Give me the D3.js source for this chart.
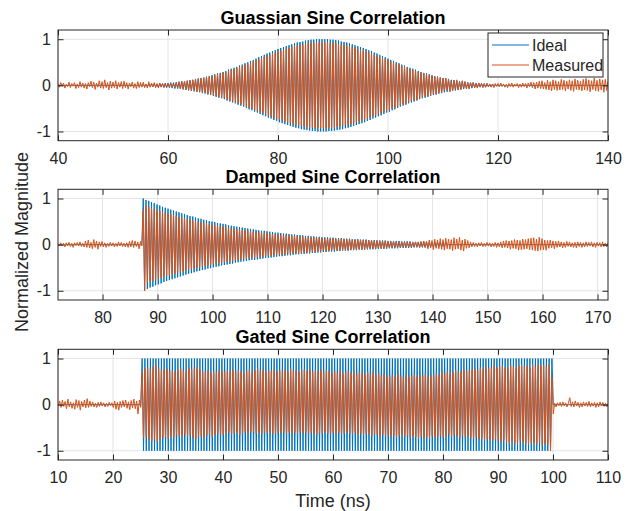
<!DOCTYPE html>
<html><head><meta charset="utf-8">
<script src="https://cdn.jsdelivr.net/npm/d3@7"></script>
<style>body{margin:0;background:#fff}svg{display:block}</style>
</head><body>
<svg id="c" width="634" height="511"></svg>
<script>
// ---------- DATA (signed peak values, sample step dt in ns) ----------
const dt = 0.25;

// Panel 1: Gaussian sine, samples from t = 40 ns
const gaussStart = 40;
const gaussIdeal = [
0,0,0,0,0,0,0,0,0,0,0,0,0,0,0,0,0,0,0,0,
0,0,0,0,0,0,0,0,0,0,0,0,0,0,0,0,0,0,0,0,
0,0,0,0,0,0,0,0,0,0,0,0,0,0,0,0,.01,-.01,.01,-.02,
.02,-.02,.02,-.02,.02,-.02,.02,-.03,.03,-.03,.03,-.03,.03,-.04,.04,-.04,.04,-.04,.05,-.05,
.05,-.05,.06,-.06,.06,-.07,.07,-.07,.08,-.08,.09,-.09,.09,-.10,.10,-.11,.11,-.12,.12,-.13,
.14,-.14,.15,-.15,.16,-.17,.17,-.18,.19,-.20,.20,-.21,.22,-.23,.24,-.25,.26,-.27,.27,-.28,
.29,-.30,.31,-.33,.34,-.35,.36,-.37,.38,-.39,.40,-.42,.43,-.44,.45,-.46,.48,-.49,.50,-.52,
.53,-.54,.55,-.57,.58,-.59,.61,-.62,.63,-.65,.66,-.67,.69,-.70,.71,-.72,.74,-.75,.76,-.77,
.79,-.80,.81,-.82,.83,-.84,.85,-.86,.87,-.88,.89,-.90,.91,-.92,.93,-.93,.94,-.95,.95,-.96,
.97,-.97,.98,-.98,.99,-.99,.99,-.99,1,-1,1,-1,1,-1,1,-1,1,-.99,.99,-.99,
.99,-.98,.98,-.97,.97,-.96,.95,-.95,.94,-.93,.93,-.92,.91,-.90,.89,-.88,.87,-.86,.85,-.84,
.83,-.82,.81,-.80,.79,-.77,.76,-.75,.74,-.72,.71,-.70,.69,-.67,.66,-.65,.63,-.62,.61,-.59,
.58,-.57,.55,-.54,.53,-.52,.50,-.49,.48,-.46,.45,-.44,.43,-.42,.40,-.39,.38,-.37,.36,-.35,
.34,-.33,.31,-.30,.29,-.28,.27,-.27,.26,-.25,.24,-.23,.22,-.21,.20,-.20,.19,-.18,.17,-.17,
.16,-.15,.15,-.14,.14,-.13,.12,-.12,.11,-.11,.10,-.10,.09,-.09,.09,-.08,.08,-.07,.07,-.07,
.06,-.06,.06,-.05,.05,-.05,.05,-.04,.04,-.04,.04,-.04,.03,-.03,.03,-.03,.03,-.03,.02,-.02,
.02,-.02,.02,-.02,.02,-.02,.01,-.01,.01,0,0,0,0,0,0,0,0,0,0,0,
0,0,0,0,0,0,0,0,0,0,0,0,0,0,0,0,0,0,0,0,
0,0,0,0,0,0,0,0,0,0,0,0,0,0,0,0,0,0,0,0,
0,0,0,0,0,0,0,0,0,0,0,0,0,0,0,0,0,0,0,0, 0];
const gaussMeasured = [
.03,-.04,.06,-.02,.05,-.06,.02,-.03,.07,-.05,.04,-.02,.06,-.07,.03,-.05,.08,-.04,.05,-.06,
.04,-.08,.06,-.03,.09,-.05,.07,-.09,.05,-.04,.10,-.06,.08,-.07,.12,-.05,.06,-.10,.09,-.06,
.07,-.05,.10,-.08,.06,-.04,.08,-.07,.09,-.05,.06,-.08,.05,-.03,.07,-.06,.04,-.07,.08,-.05,
.06,-.04,.07,-.05,.03,-.06,.08,-.04,.05,-.03,.06,-.05,.04,-.06,.05,-.03,.04,-.05,.03,-.04,
.04,-.03,.05,-.04,.03,-.05,.06,-.05,.07,-.08,.08,-.07,.09,-.10,.10,-.09,.11,-.12,.12,-.11,
.13,-.14,.14,-.13,.15,-.16,.16,-.16,.18,-.18,.19,-.20,.20,-.21,.22,-.23,.24,-.25,.25,-.26,
.27,-.28,.29,-.30,.31,-.33,.34,-.34,.35,-.37,.37,-.39,.40,-.41,.42,-.43,.44,-.46,.47,-.48,
.49,-.50,.51,-.53,.54,-.55,.56,-.58,.59,-.60,.61,-.62,.64,-.65,.66,-.67,.69,-.70,.71,-.72,
.73,-.74,.75,-.76,.77,-.78,.79,-.80,.81,-.82,.83,-.84,.85,-.86,.86,-.86,.87,-.88,.88,-.89,
.90,-.90,.91,-.91,.92,-.92,.92,-.92,.93,-.93,.93,-.93,.93,-.93,.93,-.93,.93,-.92,.92,-.92,
.92,-.91,.91,-.90,.90,-.89,.88,-.88,.87,-.86,.86,-.86,.85,-.84,.83,-.82,.81,-.80,.79,-.78,
.77,-.76,.75,-.74,.73,-.72,.71,-.70,.69,-.67,.66,-.65,.64,-.62,.61,-.60,.59,-.58,.57,-.55,
.54,-.53,.51,-.50,.49,-.48,.47,-.46,.45,-.43,.42,-.41,.40,-.39,.37,-.36,.35,-.34,.33,-.33,
.32,-.31,.29,-.28,.27,-.27,.26,-.24,.24,-.23,.22,-.22,.21,-.19,.19,-.19,.18,-.16,.17,-.16,
.15,-.12,.16,-.10,.13,-.14,.09,-.12,.11,-.08,.12,-.10,.07,-.09,.10,-.06,.08,-.07,.05,-.08,
.06,-.04,.07,-.05,.03,-.06,.05,-.03,.04,-.05,.03,-.04,.05,-.03,.02,-.04,.03,-.05,.04,-.02,
.04,-.03,.05,-.02,.03,-.04,.02,-.05,.04,-.03,.05,-.04,.03,-.02,.04,-.05,.03,-.04,.05,-.03,
.04,-.06,.05,-.03,.07,-.05,.06,-.08,.07,-.06,.09,-.07,.10,-.08,.06,-.09,.11,-.10,.08,-.12,
.12,-.09,.10,-.11,.08,-.10,.13,-.09,.11,-.12,.09,-.08,.12,-.11,.10,-.13,.14,-.09,.11,-.10,
.09,-.12,.13,-.10,.15,-.11,.12,-.14,.10,-.09,.16,-.12,.11,-.13,.14,-.10,.12,-.15,.13,-.11, .10];

// Panel 2: Damped sine, samples from t = 71.9 ns
const dampedStart = 71.9;
const dampedIdeal = [
0,0,0,0,0,0,0,0,0,0,0,0,0,0,0,0,0,0,0,0,
0,0,0,0,0,0,0,0,0,0,0,0,0,0,0,0,0,0,0,0,
0,0,0,0,0,0,0,0,0,0,0,0,0,0,0,0,0,0,0,0, 0,0,
1,-.99,.97,-.96,.95,-.93,.92,-.91,.90,-.88,.87,-.86,.85,-.84,.82,-.81,.80,-.79,.78,-.77,
.76,-.75,.74,-.73,.72,-.71,.70,-.69,.68,-.67,.66,-.65,.64,-.63,.62,-.62,.61,-.60,.59,-.58,
.57,-.57,.56,-.55,.54,-.54,.53,-.52,.51,-.51,.50,-.49,.49,-.48,.47,-.47,.46,-.45,.45,-.44,
.44,-.43,.42,-.42,.41,-.41,.40,-.39,.39,-.38,.38,-.37,.37,-.36,.36,-.35,.35,-.34,.34,-.33,
.33,-.33,.32,-.32,.31,-.31,.30,-.30,.30,-.29,.29,-.28,.28,-.28,.27,-.27,.26,-.26,.26,-.25,
.25,-.25,.24,-.24,.24,-.23,.23,-.23,.22,-.22,.22,-.21,.21,-.21,.21,-.20,.20,-.20,.19,-.19,
.19,-.19,.18,-.18,.18,-.18,.17,-.17,.17,-.17,.16,-.16,.16,-.16,.16,-.15,.15,-.15,.15,-.15,
.14,-.14,.14,-.14,.14,-.13,.13,-.13,.13,-.13,.13,-.12,.12,-.12,.12,-.12,.12,-.11,.11,-.11,
.11,-.11,.11,-.10,.10,-.10,.10,-.10,.10,-.10,.09,-.09,.09,-.09,.09,-.09,.09,-.09,.08,-.08,
.08,-.08,.08,-.08,.08,-.08,.08,-.07,.07,-.07,.07,-.07,.07,-.07,.07,-.07,.06,-.06,.06,-.06,
.06,-.06,.06,-.06,.06,-.06,.06,-.06,.05,-.05,.05,-.05,.05,-.05,.05,-.05,.05,-.05,.05,-.05, .05,
0,0,0,0,0,0,0,0,0,0,0,0,0,0,0,0,0,0,0,0,
0,0,0,0,0,0,0,0,0,0,0,0,0,0,0,0,0,0,0,0,
0,0,0,0,0,0,0,0,0,0,0,0,0,0,0,0,0,0,0,0,
0,0,0,0,0,0,0,0,0,0,0,0,0,0,0,0,0,0,0,0,
0,0,0,0,0,0,0,0,0,0,0,0,0,0,0,0,0,0,0,0,
0,0,0,0,0,0,0,0,0,0,0,0,0,0,0,0,0,0];
const dampedMeasured = [
.02,-.03,.04,-.02,.03,-.05,.04,-.03,.05,-.04,.03,-.06,.04,-.02,.05,-.03,.06,-.04,.03,-.05,
.08,-.06,.10,-.07,.05,-.09,.11,-.06,.08,-.10,.06,-.04,.07,-.05,.04,-.06,.03,-.04,.05,-.03,
.04,-.05,.03,-.04,.06,-.03,.05,-.04,.03,-.05,.04,-.06,.07,-.05,.09,-.06,.08,-.04,.06,-.09, .07,-.03,
.75,-1,.84,-.83,.82,-.80,.79,-.78,.77,-.76,.75,-.74,.73,-.72,.71,-.70,.69,-.68,.67,-.66,
.65,-.65,.64,-.63,.62,-.61,.60,-.59,.58,-.58,.57,-.56,.55,-.54,.54,-.53,.52,-.52,.51,-.50,
.49,-.49,.48,-.47,.47,-.46,.46,-.45,.44,-.44,.43,-.42,.42,-.41,.41,-.40,.40,-.39,.39,-.38,
.38,-.37,.36,-.36,.35,-.35,.34,-.34,.33,-.33,.32,-.32,.32,-.31,.31,-.30,.30,-.29,.29,-.28,
.28,-.28,.28,-.27,.27,-.26,.26,-.26,.25,-.25,.25,-.24,.24,-.24,.23,-.23,.22,-.22,.22,-.22,
.21,-.22,.20,-.21,.21,-.20,.20,-.19,.19,-.20,.19,-.18,.18,-.19,.17,-.18,.17,-.17,.16,-.17,
.16,-.17,.15,-.16,.16,-.15,.15,-.14,.15,-.15,.14,-.13,.14,-.14,.13,-.14,.13,-.12,.14,-.12,
.12,-.13,.12,-.11,.13,-.11,.12,-.12,.11,-.12,.12,-.10,.11,-.11,.10,-.11,.11,-.09,.10,-.10,
.10,-.09,.10,-.10,.09,-.08,.10,-.09,.08,-.09,.09,-.07,.08,-.08,.07,-.08,.08,-.06,.07,-.07,
.06,-.07,.07,-.05,.06,-.06,.05,-.07,.06,-.04,.05,-.06,.07,-.05,.04,-.06,.05,-.04,.06,-.05,
.05,-.06,.07,-.05,.08,-.06,.07,-.09,.10,-.07,.09,-.11,.12,-.08,.10,-.09,.13,-.10,.11,-.12,
.14,-.09,.12,-.10,.11,-.13,.15,-.10,.12,-.09,.16,-.12,.10,-.14,.12,-.08,.09,-.07,.06,-.05,
.05,-.04,.03,-.05,.04,-.03,.05,-.04,.03,-.04,.05,-.03,.04,-.05,.03,-.04,.05,-.06,.04,-.05,
.06,-.07,.08,-.06,.09,-.07,.08,-.10,.09,-.08,.11,-.09,.10,-.12,.09,-.11,.12,-.10,.11,-.09,
.13,-.11,.14,-.12,.15,-.13,.12,-.14,.16,-.12,.13,-.11,.10,-.12,.09,-.08,.10,-.07,.08,-.09,
.07,-.06,.08,-.05,.06,-.07,.05,-.06,.07,-.04,.06,-.05,.04,-.06,.05,-.07,.06,-.04,.05,-.06,
.04,-.05,.06,-.04,.05,-.03,.06,-.05,.04,-.06,.05,-.03,.04,-.05,.06,-.04,.03,-.05,.04];

// Panel 3: Gated sine, samples from t = 9.8 ns
const gatedStart = 9.8;
const gatedIdeal = [
0,0,0,0,0,0,0,0,0,0,0,0,0,0,0,0,0,0,0,0,
0,0,0,0,0,0,0,0,0,0,0,0,0,0,0,0,0,0,0,0,
0,0,0,0,0,0,0,0,0,0,0,0,0,0,0,0,0,0,0,0, 0,0,
1,-1,1,-1,1,-1,1,-1,1,-1,1,-1,1,-1,1,-1,1,-1,1,-1,
1,-1,1,-1,1,-1,1,-1,1,-1,1,-1,1,-1,1,-1,1,-1,1,-1,
1,-1,1,-1,1,-1,1,-1,1,-1,1,-1,1,-1,1,-1,1,-1,1,-1,
1,-1,1,-1,1,-1,1,-1,1,-1,1,-1,1,-1,1,-1,1,-1,1,-1,
1,-1,1,-1,1,-1,1,-1,1,-1,1,-1,1,-1,1,-1,1,-1,1,-1,
1,-1,1,-1,1,-1,1,-1,1,-1,1,-1,1,-1,1,-1,1,-1,1,-1,
1,-1,1,-1,1,-1,1,-1,1,-1,1,-1,1,-1,1,-1,1,-1,1,-1,
1,-1,1,-1,1,-1,1,-1,1,-1,1,-1,1,-1,1,-1,1,-1,1,-1,
1,-1,1,-1,1,-1,1,-1,1,-1,1,-1,1,-1,1,-1,1,-1,1,-1,
1,-1,1,-1,1,-1,1,-1,1,-1,1,-1,1,-1,1,-1,1,-1,1,-1,
1,-1,1,-1,1,-1,1,-1,1,-1,1,-1,1,-1,1,-1,1,-1,1,-1,
1,-1,1,-1,1,-1,1,-1,1,-1,1,-1,1,-1,1,-1,1,-1,1,-1,
1,-1,1,-1,1,-1,1,-1,1,-1,1,-1,1,-1,1,-1,1,-1,1,-1,
1,-1,1,-1,1,-1,1,-1,1,-1,1,-1,1,-1,1,-1,1,-1,1,-1,
1,-1,1,-1,1,-1,1,-1,1,-1,1,-1,1,-1,1,-1,1,-1,1,
0,0,0,0,0,0,0,0,0,0,0,0,0,0,0,0,0,0,0,0,
0,0,0,0,0,0,0,0,0,0,0,0,0,0,0,0,0,0,0,0, 0];
const gatedMeasured = [
.05,-.03,.08,-.06,.10,-.04,.07,-.09,.12,-.05,.06,-.08,.04,-.10,.11,-.06,.09,-.12,.07,-.05,
.10,-.07,.13,-.06,.08,-.04,.06,-.05,.03,-.06,.05,-.04,.06,-.03,.04,-.05,.03,-.04,.05,-.02,
.04,-.06,.08,-.10,.05,-.12,.07,-.06,.09,-.05,.10,-.08,.06,-.11,.09,-.07,.12,-.09,.08,-.20, .10,-.06,
.70,-.72,.78,-.70,.80,-.76,.74,-.78,.82,-.74,.86,-.80,.78,-.76,.74,-.72,.76,-.70,.78,-.74,
.72,-.68,.74,-.72,.70,-.66,.76,-.70,.78,-.68,.74,-.64,.72,-.70,.80,-.66,.76,-.72,.78,-.74,
.82,-.70,.76,-.68,.72,-.72,.70,-.66,.74,-.64,.68,-.70,.72,-.66,.70,-.62,.74,-.64,.72,-.66,
.70,-.62,.74,-.60,.72,-.64,.76,-.62,.70,-.60,.74,-.66,.72,-.62,.68,-.58,.72,-.62,.76,-.60,
.70,-.58,.74,-.62,.78,-.60,.72,-.64,.76,-.58,.70,-.62,.74,-.60,.72,-.64,.76,-.62,.70,-.60,
.74,-.62,.72,-.58,.76,-.64,.70,-.60,.78,-.62,.72,-.60,.75,-.64,.70,-.58,.74,-.62,.76,-.60,
.72,-.64,.76,-.60,.70,-.62,.74,-.66,.72,-.60,.76,-.62,.70,-.58,.74,-.62,.72,-.64,.68,-.60,
.72,-.62,.68,-.60,.74,-.64,.66,-.62,.70,-.58,.72,-.62,.68,-.64,.70,-.60,.66,-.66,.72,-.62,
.68,-.66,.64,-.62,.70,-.64,.66,-.68,.72,-.62,.64,-.66,.68,-.70,.62,-.64,.66,-.68,.60,-.66,
.62,-.70,.64,-.66,.60,-.72,.66,-.68,.62,-.64,.58,-.70,.64,-.66,.60,-.72,.62,-.68,.66,-.70,
.60,-.74,.64,-.68,.62,-.72,.66,-.70,.60,-.74,.64,-.68,.62,-.72,.68,-.70,.64,-.66,.70,-.72,
.66,-.68,.72,-.64,.68,-.70,.70,-.66,.74,-.68,.70,-.72,.72,-.66,.76,-.70,.72,-.68,.74,-.72,
.76,-.74,.78,-.70,.74,-.76,.80,-.72,.76,-.78,.82,-.74,.78,-.76,.80,-.78,.84,-.74,.80,-.78,
.82,-.80,.84,-.76,.80,-.82,.78,-.84,.86,-.80,.82,-.84,.80,-.86,.84,-.78,.86,-.82,.82,-.84,
.84,-.86,.80,-.82,.88,-.84,.82,-.86,.86,-.80,.84,-.88,.86,-.84,.82,-.86,.88,-1,.60,
-.20,.03,-.05,.04,-.02,.05,-.04,.06,-.03,.04,-.05,.03,.15,-.04,.06,-.05,.08,-.03,.05,-.06,
.04,-.05,.06,-.03,.05,-.04,.07,-.05,.04,-.03,.05,-.06,.04,-.05,.06,-.03,.05,-.04,.03,-.05, .04];

// Axes / labels
const titles = ["Guassian Sine Correlation", "Damped Sine Correlation", "Gated Sine Correlation"];
const xDomains = [[40, 140], [71.9, 171.9], [10, 110]];
const gaussTicks = [40, 60, 80, 100, 120, 140];
const dampedTicks = [80, 90, 100, 110, 120, 130, 140, 150, 160, 170];
const gatedTicks = [10, 20, 30, 40, 50, 60, 70, 80, 90, 100, 110];
const yTicks = [-1, 0, 1];
const yDomain = [-1.2, 1.2];
const seriesNames = ["Ideal", "Measured"];
const xLabel = "Time (ns)";
const yLabel = "Normalized Magnitude";

// ---------- DRAW ----------
const colors = ["#0072BD", "#D95319"];
const svg = d3.select("#c");
const L = 58, R = 608, PH = 110.7;
const tops = [30, 189.3, 349.3];
const panels = [
  {title: titles[0], dom: xDomains[0], ticks: gaussTicks, t0: gaussStart, series: [gaussIdeal, gaussMeasured]},
  {title: titles[1], dom: xDomains[1], ticks: dampedTicks, t0: dampedStart, series: [dampedIdeal, dampedMeasured]},
  {title: titles[2], dom: xDomains[2], ticks: gatedTicks, t0: gatedStart, series: [gatedIdeal, gatedMeasured]}
];
const axisCol = "#262626";
const font = "'Liberation Sans', Arial, Helvetica, sans-serif";

panels.forEach((p, k) => {
  const top = tops[k], bot = top + PH;
  const x = d3.scaleLinear().domain(p.dom).range([L, R]);
  const y = d3.scaleLinear().domain(yDomain).range([bot, top]);
  const g = svg.append("g");
  g.append("g").selectAll("line").data(p.ticks).join("line")
    .attr("x1", d => x(d)).attr("x2", d => x(d)).attr("y1", top).attr("y2", bot)
    .attr("stroke", "#e4e4e4").attr("stroke-width", 1);
  g.append("g").selectAll("line").data(yTicks).join("line")
    .attr("x1", L).attr("x2", R).attr("y1", d => y(d)).attr("y2", d => y(d))
    .attr("stroke", "#e4e4e4").attr("stroke-width", 1);
  const cid = "clip" + k;
  svg.append("clipPath").attr("id", cid).append("rect")
    .attr("x", L).attr("y", top).attr("width", R - L).attr("height", PH);
  const line = d3.line().x((d, i) => x(p.t0 + i * dt)).y(d => y(d));
  p.series.forEach((s, j) => {
    g.append("path").datum(s).attr("d", line).attr("clip-path", `url(#${cid})`)
      .attr("fill", "none").attr("stroke", colors[j]).attr("stroke-width", 1)
      .attr("stroke-linejoin", "bevel");
  });
  const ax = g.append("g").attr("transform", `translate(0,${bot})`)
    .call(d3.axisBottom(x).tickValues(p.ticks).tickSizeInner(-5.5).tickSizeOuter(0).tickPadding(11.5));
  const axT = g.append("g").attr("transform", `translate(0,${top})`)
    .call(d3.axisTop(x).tickValues(p.ticks).tickSizeInner(-5.5).tickSizeOuter(0).tickFormat(""));
  const ay = g.append("g").attr("transform", `translate(${L},0)`)
    .call(d3.axisLeft(y).tickValues(yTicks).tickSizeInner(-5.5).tickSizeOuter(0).tickPadding(7).tickFormat(d3.format("d")));
  const ayR = g.append("g").attr("transform", `translate(${R},0)`)
    .call(d3.axisRight(y).tickValues(yTicks).tickSizeInner(-5.5).tickSizeOuter(0).tickFormat(""));
  [ax, axT, ay, ayR].forEach(a => {
    a.select(".domain").remove();
    a.selectAll("line").attr("stroke", axisCol);
    a.selectAll("text").attr("fill", axisCol).style("font-family", font).style("font-size", "16px");
  });
  ay.selectAll("text").text(d => d < 0 ? "-" + Math.abs(d) : d);
  g.append("rect").attr("x", L).attr("y", top).attr("width", R - L).attr("height", PH)
    .attr("fill", "none").attr("stroke", axisCol).attr("stroke-width", 1);
  g.append("text").attr("x", (L + R) / 2).attr("y", top - 6).attr("text-anchor", "middle")
    .style("font-family", font).style("font-size", "18px").style("font-weight", "bold")
    .attr("fill", "#000").text(p.title);
});

const lg = svg.append("g");
lg.append("rect").attr("x", 488).attr("y", 33).attr("width", 115).attr("height", 44)
  .attr("fill", "#fff").attr("stroke", axisCol).attr("stroke-width", 1);
seriesNames.forEach((n, j) => {
  const cy = 45 + j * 20;
  lg.append("line").attr("x1", 492).attr("x2", 529).attr("y1", cy).attr("y2", cy)
    .attr("stroke", colors[j]).attr("stroke-width", 1);
  lg.append("text").attr("x", 532).attr("y", cy + 6.3).attr("fill", axisCol)
    .style("font-family", font).style("font-size", "16px").text(n);
});

svg.append("text").attr("x", 333).attr("y", 507).attr("text-anchor", "middle")
  .attr("fill", axisCol).style("font-family", font).style("font-size", "18px").text(xLabel);
svg.append("text").attr("transform", "translate(28,242) rotate(-90)").attr("text-anchor", "middle")
  .attr("fill", axisCol).style("font-family", font).style("font-size", "18px").text(yLabel);
</script>
</body></html>
